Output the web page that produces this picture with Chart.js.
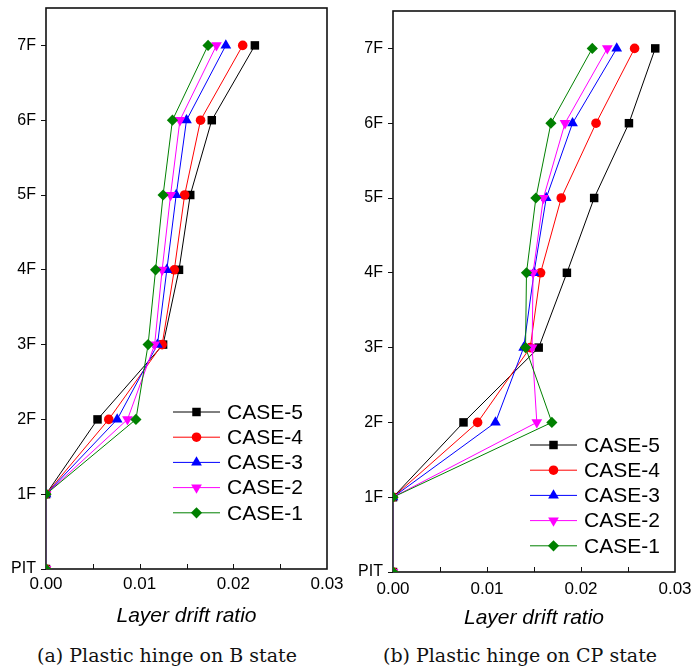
<!DOCTYPE html>
<html>
<head>
<meta charset="utf-8">
<script src="https://cdn.jsdelivr.net/npm/chart.js@4.4.1/dist/chart.umd.min.js"></script>
<style>
  body { margin: 0; background: #fff; width: 696px; height: 672px; position: relative; overflow: hidden; }
  .panel { position: absolute; top: 0; width: 348px; height: 672px; }
  .panel canvas { position: absolute; left: 0; top: 0; }
  .cap { position: absolute; top: 644px; width: 348px; text-align: center; font: 19px "DejaVu Serif"; color: #111; white-space: nowrap; }
</style>
</head>
<body>
<div class="panel" style="left:0">
  <canvas id="chartB" width="348" height="640" style="width:348px;height:640px"></canvas>
  <div class="cap" style="left:-7px">(a) Plastic hinge on B state</div>
</div>
<div class="panel" style="left:348px">
  <canvas id="chartCP" width="348" height="640" style="width:348px;height:640px"></canvas>
  <div class="cap" style="left:-2px">(b) Plastic hinge on CP state</div>
</div>
<script>
// floors from bottom to top
const floors = ['PIT', '1F', '2F', '3F', '4F', '5F', '6F', '7F'];
const caseNames = ['CASE-5', 'CASE-4', 'CASE-3', 'CASE-2', 'CASE-1'];
const xTickValues = [0, 0.01, 0.02, 0.03];

// (a) B state - layer drift ratio per floor
const case5B = [0, 0, 0.0055, 0.0125, 0.0142, 0.0154, 0.0177, 0.0223];
const case4B = [0, 0, 0.0067, 0.0124, 0.0137, 0.0148, 0.0165, 0.0210];
const case3B = [0, 0, 0.0076, 0.0119, 0.0129, 0.0139, 0.0150, 0.0192];
const case2B = [0, 0, 0.0087, 0.0116, 0.0124, 0.0133, 0.0143, 0.0182];
const case1B = [0, 0, 0.0096, 0.0109, 0.0117, 0.0125, 0.0135, 0.0173];

// (b) CP state
const case5CP = [0, 0, 0.0075, 0.0155, 0.0185, 0.0214, 0.0251, 0.0279];
const case4CP = [0, 0, 0.0090, 0.0146, 0.0157, 0.0179, 0.0216, 0.0257];
const case3CP = [0, 0, 0.0109, 0.0139, 0.0150, 0.0163, 0.0191, 0.0238];
const case2CP = [0, 0, 0.0153, 0.0148, 0.0149, 0.0160, 0.0183, 0.0228];
const case1CP = [0, 0, 0.0169, 0.0141, 0.0142, 0.0152, 0.0168, 0.0212];

const styles = [
  { color: '#000000', pointStyle: 'rect', radius: 6, rotation: 0 },
  { color: '#ff0000', pointStyle: 'circle', radius: 4.8, rotation: 0 },
  { color: '#0000ff', pointStyle: 'triangle', radius: 6.2, rotation: 0 },
  { color: '#ff00ff', pointStyle: 'triangle', radius: 6.2, rotation: 180 },
  { color: '#008000', pointStyle: 'rectRot', radius: 5.6, rotation: 0 }
];

// frame + inward x ticks
const framePlugin = {
  id: 'frame',
  beforeDatasetsDraw(chart) {
    const { ctx, chartArea: a } = chart;
    const xs = chart.scales.x;
    ctx.save();
    ctx.strokeStyle = '#111';
    ctx.lineWidth = 1;
    xs.ticks.forEach(t => {
      const px = Math.round(xs.getPixelForValue(t.value)) + 0.5;
      if (px <= a.left + 1 || px >= a.right - 1) return;
      ctx.beginPath();
      ctx.moveTo(px, a.bottom);
      ctx.lineTo(px, a.bottom - 5);
      ctx.stroke();
    });
    ctx.lineWidth = 1.6;
    ctx.strokeRect(a.left, a.top, a.right - a.left, a.bottom - a.top);
    ctx.restore();
  }
};

const floatLegend = {
  id: 'floatLegend',
  afterDraw(chart, args, opts) {
    const { ctx, chartArea: a } = chart;
    ctx.save();
    ctx.font = '21px "Liberation Sans", Arial, sans-serif';
    ctx.textBaseline = 'middle';
    chart.data.datasets.forEach((ds, i) => {
      const y = a.top + opts.top + i * opts.rowGap;
      const x0 = a.left + opts.left;
      ctx.strokeStyle = ds.borderColor;
      ctx.lineWidth = 1;
      ctx.beginPath();
      ctx.moveTo(x0, y);
      ctx.lineTo(x0 + opts.lineLen, y);
      ctx.stroke();
      ctx.fillStyle = ds.backgroundColor;
      Chart.helpers.drawPoint(ctx, {
        pointStyle: ds.pointStyle, radius: ds.pointRadius,
        rotation: ds.pointRotation || 0, borderWidth: 0
      }, x0 + opts.lineLen / 2, y);
      ctx.fillStyle = '#000';
      ctx.fillText(ds.label, x0 + opts.lineLen + opts.textGap, y + 1);
    });
    ctx.restore();
  }
};

function makeChart(id, series, box, legendPos) {
  const datasets = series.map((vals, k) => ({
    label: caseNames[k],
    data: vals.map((v, i) => ({ x: v, y: i })),
    showLine: true,
    borderColor: styles[k].color,
    backgroundColor: styles[k].color,
    borderWidth: 1,
    pointStyle: styles[k].pointStyle,
    pointRadius: styles[k].radius,
    pointRotation: styles[k].rotation,
    pointBorderWidth: 0,
    order: 5 - k
  }));

  return new Chart(document.getElementById(id), {
    type: 'scatter',
    data: { datasets },
    options: {
      responsive: false,
      animation: false,
      layout: { padding: { top: box.top, right: 348 - box.right, left: 0, bottom: 0 } },
      plugins: {
        legend: { display: false },
        tooltip: { enabled: false },
        floatLegend: legendPos
      },
      scales: {
        x: {
          type: 'linear',
          min: 0,
          max: 0.03,
          afterBuildTicks: s => {
            const t = [];
            for (let i = 0; i <= 6; i++) t.push({ value: i * 0.005 });
            s.ticks = t;
          },
          afterFit: s => { s.height = 640 - box.bottom; s.paddingLeft = 0; s.paddingRight = 0; },
          grid: { display: false, drawTicks: false },
          border: { display: false },
          ticks: {
            padding: box.tickPad,
            color: '#000',
            font: { family: '"Liberation Sans", Arial, sans-serif', size: 17 },
            maxRotation: 0,
            autoSkip: false,
            callback: v => xTickValues.some(t => Math.abs(t - v) < 1e-9) ? v.toFixed(2) : ''
          },
          title: {
            display: true,
            text: 'Layer drift ratio',
            color: '#000',
            font: { family: '"Liberation Sans", Arial, sans-serif', size: 21, style: 'italic' },
            padding: { top: 4, bottom: box.titleBottom }
          }
        },
        y: {
          type: 'linear',
          min: 0,
          max: 7.5,
          afterBuildTicks: s => { s.ticks = floors.map((f, i) => ({ value: i })); },
          afterFit: s => { s.width = box.left; s.paddingTop = 0; s.paddingBottom = 0; },
          grid: { drawOnChartArea: false, drawTicks: true, tickLength: 5, color: '#111' },
          border: { display: false },
          ticks: {
            padding: 5,
            color: '#000',
            font: { family: '"Liberation Sans", Arial, sans-serif', size: 16 },
            callback: v => floors[v]
          }
        }
      }
    },
    plugins: [framePlugin, floatLegend]
  });
}

makeChart('chartB', [case5B, case4B, case3B, case2B, case1B],
  { left: 46, right: 327, top: 8, bottom: 569, tickPad: 5, titleBottom: 11 },
  { left: 127, top: 404, rowGap: 25.2, lineLen: 47, textGap: 7 });

makeChart('chartCP', [case5CP, case4CP, case3CP, case2CP, case1CP],
  { left: 45, right: 327, top: 11, bottom: 572, tickPad: 7, titleBottom: 9 },
  { left: 137, top: 434, rowGap: 25.2, lineLen: 47, textGap: 7 });
</script>
</body>
</html>
